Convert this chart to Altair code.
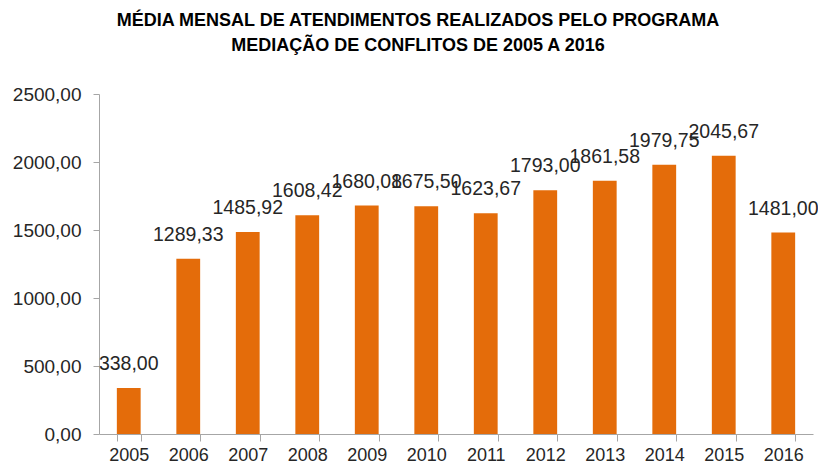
import altair as alt
import pandas as pd

years = ["2005", "2006", "2007", "2008", "2009", "2010", "2011", "2012", "2013", "2014", "2015", "2016"]
values = [338.00, 1289.33, 1485.92, 1608.42, 1680.08, 1675.50, 1623.67, 1793.00, 1861.58, 1979.75, 2045.67, 1481.00]

df = pd.DataFrame({"ano": years, "valor": values})

FONT = "Liberation Sans"

base = alt.Chart(df).encode(
    x=alt.X("ano:N", sort=years, title=None,
            scale=alt.Scale(paddingInner=0.6, paddingOuter=0.3),
            axis=alt.Axis(labelAngle=0, tickBand="extent", tickSize=7, labelPadding=5,
                          labelFontSize=18, labelFont=FONT, labelColor="#262626",
                          domainColor="#A6A6A6", tickColor="#A6A6A6", grid=False)),
    y=alt.Y("valor:Q", title=None,
            scale=alt.Scale(domain=[0, 2500]),
            axis=alt.Axis(values=[0, 500, 1000, 1500, 2000, 2500], tickSize=6, labelPadding=12,
                          labelFontSize=19, labelFont=FONT, labelColor="#262626",
                          labelExpr="replace(format(datum.value, '.2f'), '.', ',')",
                          domainColor="#A6A6A6", tickColor="#A6A6A6", grid=False)),
)

bars = base.mark_bar(color="#E46C0A")

labels = base.transform_calculate(
    rotulo="replace(format(datum.valor, '.2f'), '.', ',')"
).mark_text(baseline="alphabetic", dy=-18, fontSize=19.5, font=FONT, color="#262626").encode(
    text="rotulo:N"
)

chart = (bars + labels).properties(
    width=714,
    height=340,
    title=alt.TitleParams(
        text=["MÉDIA MENSAL DE ATENDIMENTOS REALIZADOS PELO PROGRAMA",
              "MEDIAÇÃO DE CONFLITOS DE 2005 A 2016"],
        font=FONT, fontSize=18, fontWeight="bold", color="#000000",
        anchor="middle", dx=-38, offset=30, lineHeight=25,
    ),
    autosize=alt.AutoSizeParams(type="none"),
    padding={"left": 91, "top": 86, "right": 5, "bottom": 28},
).configure_view(stroke=None)

chart.save("out.html", embed_options={"renderer": "svg", "actions": False})
